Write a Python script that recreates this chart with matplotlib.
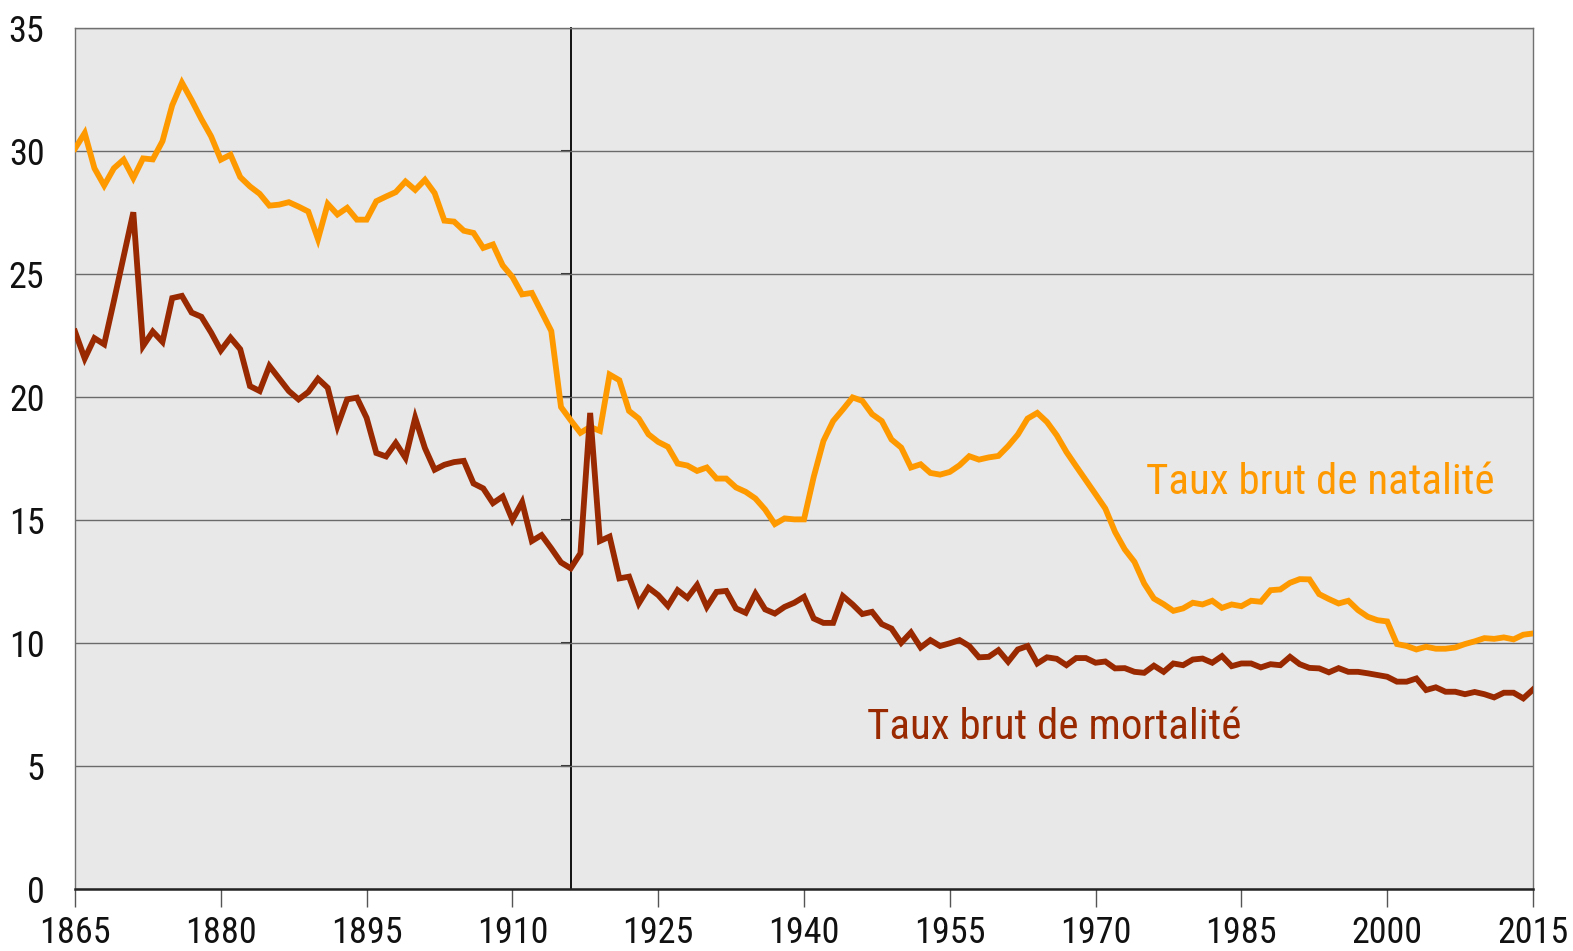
import matplotlib
matplotlib.use("Agg")
import matplotlib.pyplot as plt
import numpy as np

plt.rcParams['font.family'] = ['Liberation Sans Narrow', 'Roboto Condensed', 'DejaVu Sans Condensed', 'Liberation Sans', 'DejaVu Sans']

years = list(range(1865, 2016))

natalite = [
    30.1, 30.73, 29.3, 28.6, 29.3,          # 1865-1869
    29.65, 28.9, 29.7, 29.66, 30.4, 31.86, 32.78, 32.07, 31.3, 30.6,   # 1870s
    29.65, 29.85, 28.94, 28.56, 28.26, 27.78, 27.82, 27.92, 27.74, 27.54,  # 1880s
    26.42, 27.85, 27.42, 27.69, 27.21, 27.21, 27.96, 28.15, 28.33, 28.76,  # 1890s
    28.42, 28.83, 28.29, 27.17, 27.13, 26.76, 26.67, 26.06, 26.2, 25.35,   # 1900s
    24.88, 24.17, 24.23, 23.46, 22.68, 19.59, 19.05, 18.54, 18.78, 18.62,  # 1910s
    20.91, 20.68, 19.43, 19.12, 18.48, 18.17, 17.97, 17.29, 17.21, 16.99,  # 1920s
    17.13, 16.68, 16.68, 16.32, 16.14, 15.87, 15.42, 14.83, 15.06, 15.02,  # 1930s
    15.02, 16.75, 18.21, 19.02, 19.49, 19.98, 19.84, 19.3, 19.02, 18.27,   # 1940s
    17.94, 17.13, 17.26, 16.91, 16.84, 16.95, 17.22, 17.59, 17.45, 17.54,  # 1950s
    17.6, 18.0, 18.47, 19.12, 19.35, 18.98, 18.44, 17.76, 17.18, 16.61,    # 1960s
    16.04, 15.46, 14.51, 13.8, 13.29, 12.41, 11.8, 11.57, 11.3, 11.4,      # 1970s
    11.63, 11.56, 11.71, 11.42, 11.56, 11.49, 11.71, 11.67, 12.14, 12.17,  # 1980s
    12.44, 12.59, 12.58, 11.98, 11.78, 11.6, 11.71, 11.33, 11.06, 10.92,   # 1990s
    10.87, 9.95, 9.87, 9.73, 9.84, 9.76, 9.76, 9.81, 9.95, 10.06,          # 2000s
    10.19, 10.16, 10.22, 10.14, 10.33, 10.38,                              # 2010-2015
]

mortalite = [
    22.66, 21.56, 22.39, 22.14, 23.9,
    25.7, 27.51, 22.07, 22.66, 22.24, 24.02, 24.11, 23.43, 23.26, 22.62,
    21.89, 22.41, 21.94, 20.44, 20.24, 21.26, 20.75, 20.24, 19.9, 20.2,
    20.74, 20.37, 18.81, 19.9, 19.97, 19.15, 17.72, 17.58, 18.13, 17.52,
    19.15, 17.92, 17.04, 17.24, 17.35, 17.4, 16.48, 16.28, 15.68, 15.95,
    15.0, 15.72, 14.14, 14.38, 13.84, 13.27, 13.03, 13.64, 19.35, 14.14,
    14.32, 12.62, 12.69, 11.6, 12.24, 11.94, 11.5, 12.14, 11.83, 12.35,
    11.46, 12.07, 12.11, 11.4, 11.22, 12.0, 11.36, 11.19, 11.46, 11.63,
    11.87, 10.99, 10.81, 10.81, 11.9, 11.56, 11.17, 11.26, 10.76, 10.58,
    10.0, 10.42, 9.81, 10.11, 9.87, 9.98, 10.11, 9.87, 9.41, 9.43,
    9.7, 9.23, 9.73, 9.87, 9.16, 9.41, 9.35, 9.09, 9.38, 9.38,
    9.19, 9.24, 8.96, 8.97, 8.82, 8.78, 9.07, 8.82, 9.16, 9.09,
    9.32, 9.36, 9.19, 9.46, 9.05, 9.16, 9.16, 9.0, 9.13, 9.09,
    9.43, 9.13, 8.98, 8.96, 8.8, 8.97, 8.82, 8.82, 8.76, 8.69,
    8.62, 8.42, 8.42, 8.55, 8.08, 8.19, 8.01, 8.01, 7.91, 8.0,
    7.91, 7.78, 7.97, 7.97, 7.74, 8.1,
]

x_ticks = [1865, 1880, 1895, 1910, 1925, 1940, 1955, 1970, 1985, 2000, 2015]
y_ticks = [0, 5, 10, 15, 20, 25, 30, 35]
marker_year = 1916
label_nat = "Taux brut de natalité"
label_mort = "Taux brut de mortalité"

col_nat = '#FF9900'
col_mort = '#992900'

W, H = 1573, 951
fig = plt.figure(figsize=(W / 100, H / 100), dpi=100)
ax = fig.add_axes([75 / W, 62.3 / H, (1533 - 75) / W, (888.7 - 28.1) / H])
ax.set_facecolor('#E8E8E8')

ax.set_xlim(1865, 2015)
ax.set_ylim(0, 35)
ax.set_xticks(x_ticks)
ax.set_yticks(y_ticks)
ax.yaxis.grid(True, color='#6a6a6a', linewidth=1.0)
ax.set_axisbelow(True)

ax.plot(years, natalite, color=col_nat, linewidth=4.2, solid_joinstyle='miter', zorder=3)
ax.plot(years, mortalite, color=col_mort, linewidth=4.2, solid_joinstyle='miter', zorder=3)

for s in ['left', 'right', 'top']:
    ax.spines[s].set_color('#707070')
    ax.spines[s].set_linewidth(1.0)
ax.spines['bottom'].set_color('#222222')
ax.spines['bottom'].set_linewidth(1.8)

ax.tick_params(axis='x', direction='out', length=13, width=1, color='#555555',
               labelsize=26, pad=6, labelcolor='#111111')
ax.tick_params(axis='y', length=0, labelsize=26, pad=22, labelcolor='#111111')

# vertical marker line with small ticks
sec = ax.secondary_yaxis((marker_year - 1865) / (2015 - 1865))
sec.spines['left'].set_color('black')
sec.spines['left'].set_linewidth(1.3)
sec.set_yticks(y_ticks[1:-1])
sec.tick_params(axis='y', direction='out', length=7, width=1.5, color='#333333', labelleft=False, labelright=False)

ax.text(1975.2, 16.5, label_nat, color=col_nat, fontsize=31, ha='left', va='center')
ax.text(1946.5, 6.55, label_mort, color=col_mort, fontsize=31, ha='left', va='center')

fig.savefig('out.png', dpi=100)
